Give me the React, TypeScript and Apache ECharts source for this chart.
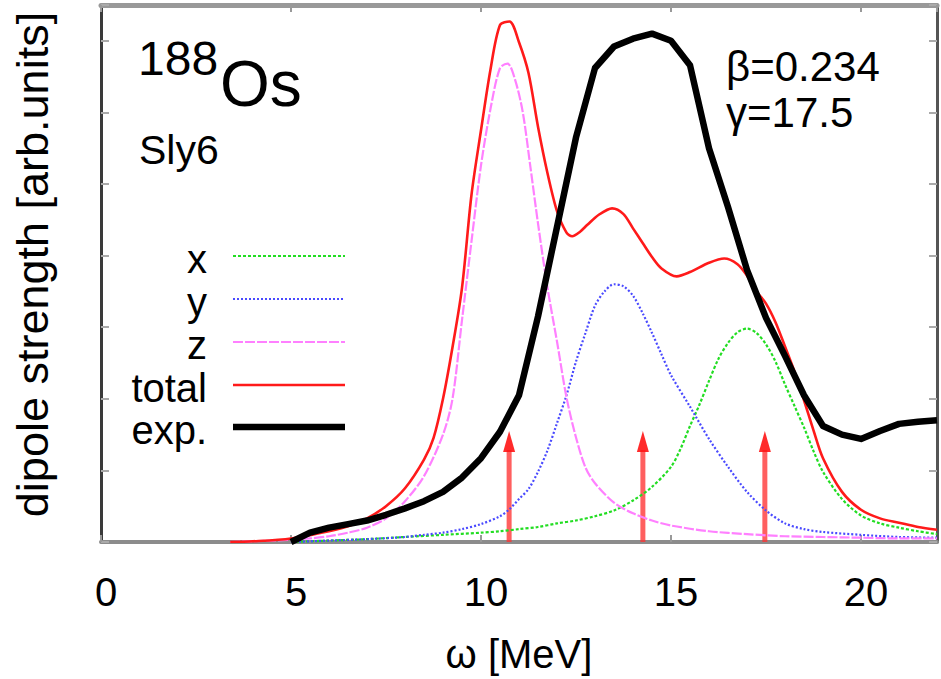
import React, { useEffect, useRef } from "react";
import * as echarts from "echarts";

const FONT = "Liberation Sans";

const legendNames = ["x", "y", "z", "total", "exp."];

// x-component (green)
const xE = [5, 6, 7, 8, 9, 10, 10.5, 11, 11.5, 12, 12.5, 13, 13.5, 14, 14.5, 15, 15.25, 15.5, 15.75, 16, 16.25, 16.5, 16.75, 17, 17.25, 17.5, 17.75, 18, 18.25, 18.5, 18.75, 19, 19.5, 20, 20.5, 21, 21.5, 22];
const xV = [0, 0.02, 0.04, 0.07, 0.1, 0.13, 0.15, 0.18, 0.21, 0.26, 0.3, 0.36, 0.44, 0.58, 0.77, 1.05, 1.3, 1.62, 1.92, 2.25, 2.56, 2.78, 2.93, 2.98, 2.92, 2.76, 2.52, 2.2, 1.9, 1.6, 1.27, 0.98, 0.6, 0.37, 0.26, 0.2, 0.15, 0.11];

// y-component (blue)
const yE = [5, 6, 7, 8, 8.5, 9, 9.5, 10, 10.5, 10.75, 11, 11.25, 11.5, 11.75, 12, 12.25, 12.5, 12.75, 13, 13.25, 13.5, 13.75, 14, 14.25, 14.5, 14.75, 15, 15.5, 16, 16.5, 17, 17.5, 18, 18.5, 19, 20, 21, 22];
const yV = [0, 0.02, 0.04, 0.07, 0.1, 0.13, 0.18, 0.25, 0.36, 0.46, 0.6, 0.74, 0.98, 1.28, 1.66, 2.05, 2.52, 2.92, 3.3, 3.5, 3.6, 3.57, 3.44, 3.2, 2.92, 2.62, 2.33, 1.89, 1.44, 1.05, 0.7, 0.44, 0.26, 0.18, 0.14, 0.1, 0.07, 0.06];

// z-component (pink)
const zE = [3.4, 4.5, 5.5, 6, 6.5, 7, 7.5, 8, 8.5, 9, 9.25, 9.5, 9.75, 10, 10.25, 10.5, 10.7, 10.9, 11.1, 11.3, 11.5, 11.75, 12, 12.25, 12.5, 12.75, 13, 13.5, 14, 14.5, 15, 16, 17, 18, 19, 20, 21, 22];
const zV = [0, 0.02, 0.05, 0.08, 0.13, 0.2, 0.33, 0.57, 0.92, 1.5, 2.0, 3.1, 4.2, 5.26, 6.05, 6.62, 6.68, 6.45, 6.0, 5.24, 4.45, 3.55, 2.8, 2.02, 1.46, 1.04, 0.82, 0.55, 0.4, 0.3, 0.23, 0.15, 0.11, 0.08, 0.07, 0.06, 0.05, 0.05];

// total (red)
const tE = [3.4, 4, 5, 6, 6.5, 7, 7.5, 8, 8.5, 8.75, 9, 9.25, 9.5, 9.75, 10, 10.25, 10.5, 10.75, 11, 11.25, 11.5, 11.75, 12, 12.25, 12.4, 12.6, 12.8, 13.1, 13.45, 13.75, 14, 14.25, 14.5, 14.75, 15.15, 15.5, 16, 16.4, 16.75, 17, 17.25, 17.5, 17.75, 18, 18.25, 18.5, 18.75, 19, 19.5, 20, 20.5, 21, 21.5, 22];
const tV = [0, 0.01, 0.05, 0.15, 0.22, 0.33, 0.5, 0.75, 1.15, 1.45, 2.0, 2.72, 3.55, 4.85, 5.75, 6.6, 7.22, 7.27, 6.98, 6.55, 5.8, 5.15, 4.62, 4.32, 4.27, 4.33, 4.43, 4.57, 4.66, 4.58, 4.38, 4.18, 3.98, 3.82, 3.71, 3.77, 3.9, 3.96, 3.88, 3.72, 3.5, 3.33, 3.07, 2.73, 2.38, 1.98, 1.56, 1.17, 0.7, 0.45, 0.33, 0.27, 0.21, 0.17];

// experiment (black)
const eE = [5, 5.5, 6, 6.5, 7, 7.5, 8, 8.5, 9, 9.5, 10, 10.5, 11, 11.5, 12, 12.5, 13, 13.5, 14, 14.5, 15, 15.5, 16, 16.5, 17, 17.5, 18, 18.5, 19, 19.5, 20, 20.5, 21, 21.5, 22];
const eV = [0, 0.13, 0.2, 0.25, 0.3, 0.38, 0.47, 0.57, 0.7, 0.9, 1.17, 1.54, 2.05, 3.15, 4.4, 5.65, 6.62, 6.92, 7.03, 7.1, 7.0, 6.66, 5.5, 4.68, 3.8, 3.13, 2.6, 2.05, 1.62, 1.5, 1.44, 1.55, 1.65, 1.68, 1.7];

// red arrows
const arrowE = [10.74, 14.26, 17.47];
const arrowTop = [1.55, 1.55, 1.55];

const zip = (a: number[], b: number[]) => a.map((v, i) => [v, b[i]]);

const styles = [
  { color: "#22dd22", width: 2.2, dash: [3, 2] },
  { color: "#4a4aff", width: 2.2, dash: [2, 2] },
  { color: "#ff80ff", width: 2.2, dash: [10, 2] },
  { color: "#ff1a1a", width: 2.6, dash: null },
  { color: "#000000", width: 6.5, dash: null },
];

export default function App() {
  const ref = useRef<HTMLDivElement>(null);
  useEffect(() => {
    if (!ref.current) return;
    const chart = echarts.init(ref.current, undefined, { renderer: "svg" });
    const txt = { color: "#000", fontFamily: FONT };
    const datasets = [zip(xE, xV), zip(yE, yV), zip(zE, zV), zip(tE, tV), zip(eE, eV)];
    const series: any[] = legendNames.map((name, i) => ({
      name,
      type: "line",
      data: datasets[i],
      symbol: "none",
      smooth: i === 4 ? false : 0.3,
      lineStyle: {
        color: styles[i].color,
        width: styles[i].width,
        type: styles[i].dash ? styles[i].dash : "solid",
        join: "round",
      },
      itemStyle: { color: styles[i].color },
    }));
    series.push({
      name: "arrows",
      type: "custom",
      data: zip(arrowE, arrowTop),
      renderItem: (params: any, api: any) => {
        const x = api.value(0);
        const top = api.value(1);
        const p0 = api.coord([x, 0]);
        const p1 = api.coord([x, top]);
        const headH = 21;
        const headW = 12;
        return {
          type: "group",
          children: [
            {
              type: "line",
              shape: { x1: p0[0], y1: p0[1], x2: p1[0], y2: p1[1] + headH - 2 },
              style: { stroke: "rgba(255,50,50,0.78)", lineWidth: 5 },
            },
            {
              type: "polygon",
              shape: { points: [[p1[0], p1[1]], [p1[0] - headW / 2, p1[1] + headH], [p1[0] + headW / 2, p1[1] + headH]] },
              style: { fill: "rgba(255,20,20,0.9)" },
            },
          ],
        };
      },
    });

    const legendRowY = [256, 299, 342, 385, 427];
    const legendGraphics: any[] = [];
    legendNames.forEach((name, i) => {
      legendGraphics.push({
        type: "text",
        x: 207,
        y: legendRowY[i] + 3,
        style: { text: name, fontSize: 40, fontFamily: FONT, fill: "#000", align: "right", verticalAlign: "middle" },
      });
      legendGraphics.push({
        type: "line",
        shape: { x1: 233, y1: legendRowY[i], x2: 345, y2: legendRowY[i] },
        style: {
          stroke: styles[i].color,
          lineWidth: styles[i].width,
          lineDash: styles[i].dash || undefined,
        },
      });
    });

    chart.setOption({
      animation: false,
      grid: { left: 101, right: 4, top: 5, bottom: 136 },
      xAxis: [
        {
          type: "value",
          position: "bottom",
          min: 0,
          max: 22,
          interval: 5,
          axisLine: { show: true, onZero: false, lineStyle: { color: "#8c8c8c", width: 4 } },
          axisTick: { show: true, inside: true, length: 7, lineStyle: { color: "#999", width: 2 } },
          axisLabel: { ...txt, fontSize: 40, margin: 30, showMaxLabel: false, padding: [0, 0, 0, 10] },
          splitLine: { show: false },
          name: "ω [MeV]",
          nameLocation: "middle",
          nameGap: 92,
          nameTextStyle: { ...txt, fontSize: 40 },
        },
        {
          type: "value",
          position: "top",
          min: 0,
          max: 22,
          interval: 5,
          axisLine: { show: true, onZero: false, lineStyle: { color: "#999", width: 5 } },
          axisTick: { show: true, inside: true, length: 7, lineStyle: { color: "#999", width: 2 } },
          axisLabel: { show: false },
          splitLine: { show: false },
        },
      ],
      yAxis: [
        {
          type: "value",
          position: "left",
          min: 0,
          max: 7.5,
          interval: 1,
          axisLine: { show: true, onZero: false, lineStyle: { color: "#3a3a3a", width: 3 } },
          axisTick: { show: true, inside: true, length: 8, lineStyle: { color: "#aaa", width: 2 } },
          axisLabel: { show: false },
          splitLine: { show: false },
          name: "dipole strength [arb.units]",
          nameLocation: "middle",
          nameRotate: 90,
          nameGap: 46,
          nameTextStyle: { ...txt, fontSize: 45, padding: [0, 0, 0, 18] },
        },
        {
          type: "value",
          position: "right",
          min: 0,
          max: 7.5,
          interval: 1,
          axisLine: { show: true, onZero: false, lineStyle: { color: "#555", width: 3 } },
          axisTick: { show: true, inside: true, length: 8, lineStyle: { color: "#aaa", width: 2 } },
          axisLabel: { show: false },
          splitLine: { show: false },
        },
      ],
      graphic: [
        { type: "text", x: 138, y: 58, style: { text: "188", fontSize: 48, fontFamily: FONT, fill: "#000", verticalAlign: "middle" } },
        { type: "text", x: 220, y: 84, style: { text: "Os", fontSize: 64, fontFamily: FONT, fill: "#000", verticalAlign: "middle" } },
        { type: "text", x: 139, y: 150, style: { text: "Sly6", fontSize: 41, fontFamily: FONT, fill: "#000", verticalAlign: "middle" } },
        { type: "text", x: 726, y: 66, style: { text: "β=0.234", fontSize: 42, fontFamily: FONT, fill: "#000", verticalAlign: "middle" } },
        { type: "text", x: 726, y: 112, style: { text: "γ=17.5", fontSize: 42, fontFamily: FONT, fill: "#000", verticalAlign: "middle" } },
        ...legendGraphics,
      ],
      series,
    });
    return () => chart.dispose();
  }, []);
  return <div ref={ref} style={{ position: "fixed", left: 0, top: 0, width: 941, height: 679, background: "#fff" }} />;
}
